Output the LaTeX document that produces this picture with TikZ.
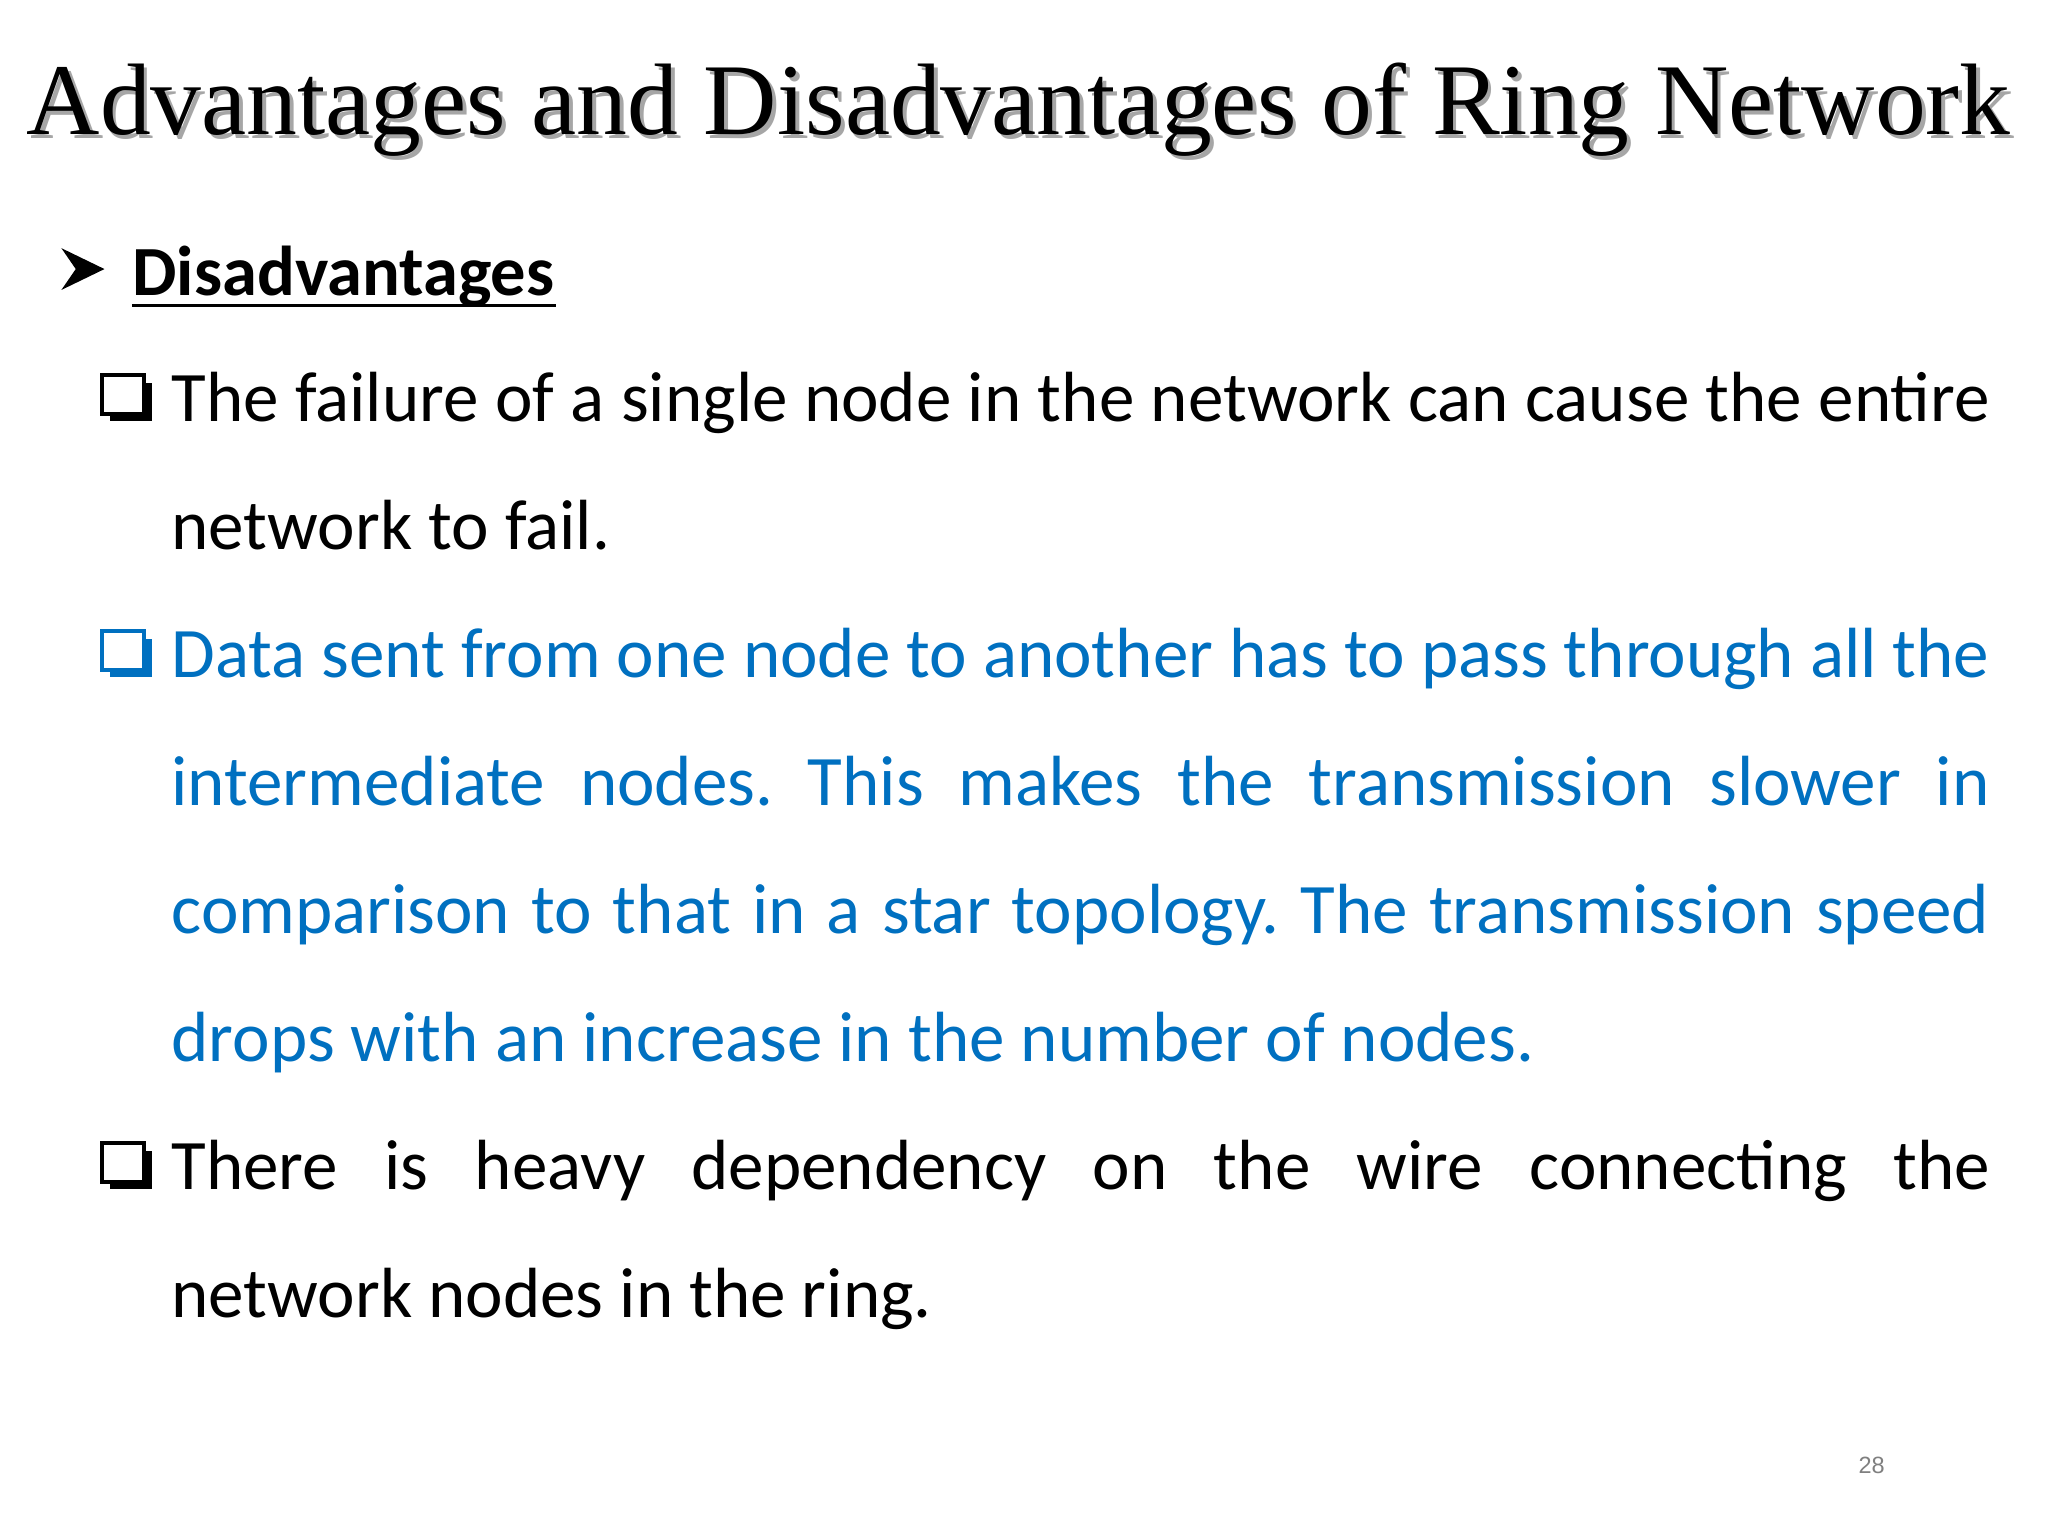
\documentclass[tikz,border=0pt]{standalone}
\usepackage{fontspec}
\setmainfont{Carlito}
\newfontfamily\titlefont{Liberation Serif}
\newfontfamily\numfont{Liberation Sans}
\definecolor{blu}{HTML}{0070C0}
\frenchspacing
\newcommand{\jl}[1]{\makebox[696pt][s]{#1}}
\begin{document}
\begin{tikzpicture}[x=0.5pt,y=-0.5pt,
  body/.style={anchor=base west,inner sep=0,font=\fontsize{27.2}{27}\selectfont},
  sq/.style={line width=2.2pt}]
\useasboundingbox[fill=white] (0,0) rectangle (1568,1176);
% title
\node[anchor=base west,inner sep=0,text=black!35,font=\titlefont\fontsize{38.9}{40}\selectfont] at (23,106) {Advantages and Disadvantages of Ring Network};
\node[anchor=base west,inner sep=0,font=\titlefont\fontsize{38.9}{40}\selectfont] (title) at (20,103) {Advantages and Disadvantages of Ring Network};
% heading
\fill (47,190) -- (80,206) -- (47,222) -- (58,206) -- cycle;
\node[anchor=base west,inner sep=0,font=\bfseries\fontsize{27}{27}\selectfont] (head) at (101,226) {Disadvantages};
\draw[line width=1.3pt] (101,234) -- (426,234);
% bullets
\foreach \y/\c in {323/black,519/blu,911/black}{
  \draw[\c,line width=1.6pt] (78,\y-36) rectangle (110,\y-6);
  \fill[\c] (84,\y-6) rectangle (116,\y-1);
  \fill[\c] (110,\y-30) rectangle (116,\y-1);
}
\node[body] (l1) at (131,323) {\jl{The failure of a single node in the network can cause the entire}};
\node[body] (l2) at (131,421) {network to fail.};
\node[body,text=blu] (l3) at (131,519) {\jl{Data sent from one node to another has to pass through all the}};
\node[body,text=blu] (l4) at (131,617) {\jl{intermediate nodes. This makes the transmission slower in}};
\node[body,text=blu] (l5) at (131,715) {\jl{comparison to that in a star topology. The transmission speed}};
\node[body,text=blu] (l6) at (131,813) {drops with an increase in the number of nodes.};
\node[body] (l7) at (131,911) {\jl{There is heavy dependency on the wire connecting the}};
\node[body] (l8) at (131,1009) {network nodes in the ring.};
\node[anchor=base,inner sep=0,text=black!50,font=\numfont\fontsize{9}{9}\selectfont] (pg) at (1433,1128) {28};
\end{tikzpicture}
\end{document}
